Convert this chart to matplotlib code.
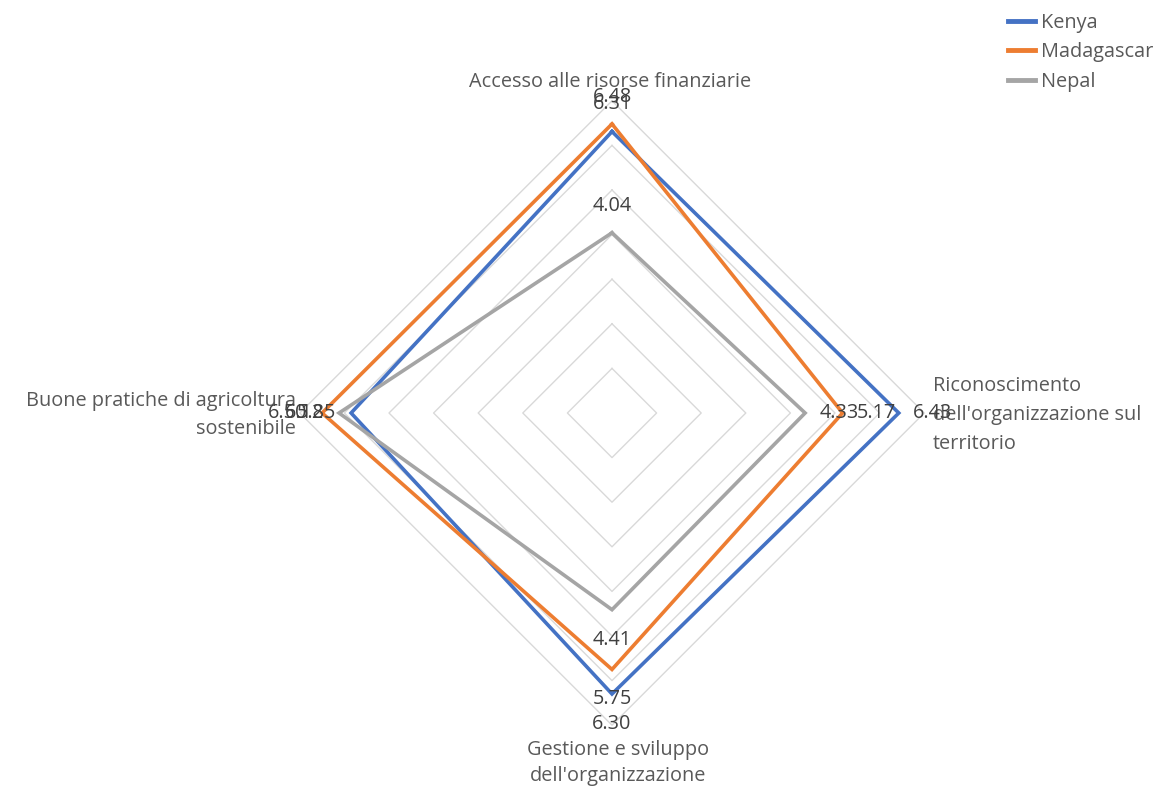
import numpy as np
import matplotlib
matplotlib.use("Agg")
import matplotlib.pyplot as plt

# Radar chart data
categories = [
    "Accesso alle risorse finanziarie",
    "Riconoscimento\ndell'organizzazione sul\nterritorio",
    "Gestione e sviluppo\ndell'organizzazione",
    "Buone pratiche di agricoltura\nsostenibile",
]
series_names = ["Kenya", "Madagascar", "Nepal"]
kenya = [6.31, 6.43, 6.30, 5.85]
madagascar = [6.48, 5.17, 5.75, 6.50]
nepal = [4.04, 4.33, 4.41, 6.12]
ring_levels = [1, 2, 3, 4, 5, 6, 7]

colors = ["#4472C4", "#ED7D31", "#A5A5A5"]
text_color = "#595959"
plt.rcParams["font.family"] = ["Open Sans", "DejaVu Sans"]
FS = 14.3

W, H = 1163, 791
fig = plt.figure(figsize=(W / 100, H / 100), dpi=100)
ppu = 44.6          # pixels per unit
cx, cy = 612, 413   # centre in pixels
half = 8 * ppu
ax = fig.add_axes([(cx - half) / W, (H - cy - half) / H, 2 * half / W, 2 * half / H])
ax.set_xlim(-8, 8)
ax.set_ylim(-8, 8)
ax.set_aspect("equal")
ax.axis("off")

n = len(categories)
angles = np.array([i * 2 * np.pi / n for i in range(n)])  # clockwise from top


def to_xy(vals):
    v = np.asarray(vals, dtype=float)
    x = v * np.sin(angles)
    y = v * np.cos(angles)
    return np.append(x, x[0]), np.append(y, y[0])


# polygon grid rings
for r in ring_levels:
    gx, gy = to_xy([r] * n)
    ax.plot(gx, gy, color="#D9D9D9", lw=1.0, zorder=1)

all_series = [kenya, madagascar, nepal]
for name, vals, col in zip(series_names, all_series, colors):
    x, y = to_xy(vals)
    ax.plot(x, y, color=col, lw=2.6, label=name, zorder=3,
            solid_joinstyle="miter")

# value labels
for vals in all_series:
    for i, v in enumerate(vals):
        x = v * np.sin(angles[i])
        y = v * np.cos(angles[i])
        if i == 0:
            off, ha, va = (0, 19.5), "center", "center"
        elif i == 1:
            off, ha, va = (10.5, 0), "left", "center"
        elif i == 2:
            off, ha, va = (0, -21.5), "center", "center"
        else:
            off, ha, va = (-10.5, 0), "right", "center"
        ax.annotate(f"{v:.2f}", (x, y), xytext=off, textcoords="offset points",
                    ha=ha, va=va, fontsize=FS, color="#404040", zorder=4)


def px(xp, yp):
    return ((xp - cx) / ppu, (cy - yp) / ppu)


ax.text(*px(610, 82), categories[0], ha="center", va="center",
        fontsize=FS, color=text_color)
ax.text(*px(933, 415), categories[1], ha="left", va="center",
        fontsize=FS, color=text_color, linespacing=1.58)
ax.text(*px(618, 763), categories[2], ha="center", va="center",
        fontsize=FS, color=text_color, linespacing=1.38)
ax.text(*px(296, 415), categories[3], ha="right", va="center",
        fontsize=FS, color=text_color, linespacing=1.58, multialignment="right")

leg = fig.legend(loc="upper left", bbox_to_anchor=(1000 / W, 1 - 5 / H),
                 frameon=False, fontsize=FS, handlelength=1.35,
                 handletextpad=0.3, labelspacing=0.47, borderaxespad=0)
for t in leg.get_texts():
    t.set_color(text_color)
for h in leg.get_lines():
    h.set_linewidth(3.5)

fig.savefig("out.png", dpi=100, facecolor="white")
